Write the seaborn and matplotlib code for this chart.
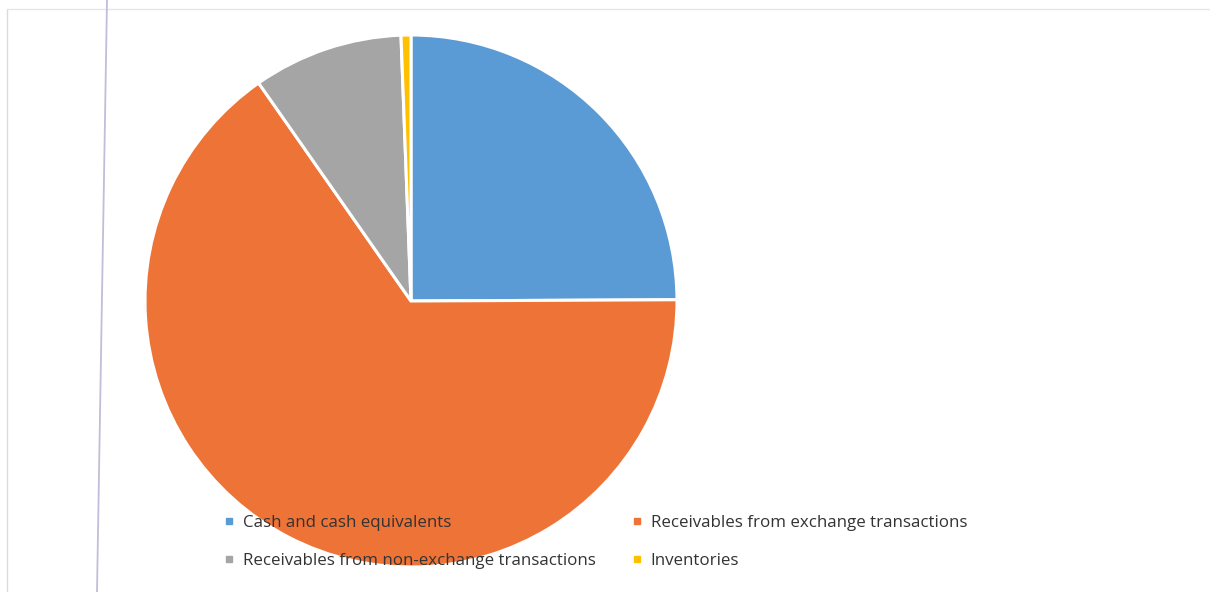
import matplotlib
matplotlib.use("Agg")
import matplotlib.pyplot as plt
from matplotlib.lines import Line2D
import seaborn as sns

sns.set_theme(style="white")
plt.rcParams['font.family'] = ['Open Sans', 'DejaVu Sans']

categories = ["Cash and cash equivalents",
              "Receivables from exchange transactions",
              "Receivables from non-exchange transactions",
              "Inventories"]
values = [24.9, 65.3, 9.1, 0.6]
colors = ["#5B9BD5", "#EE7337", "#A5A5A5", "#FFC000"]

W, H = 1210, 592
fig = plt.figure(figsize=(W / 100, H / 100), dpi=100)
fig.patch.set_facecolor("white")

# faint scan frame lines
fig.add_artist(Line2D([7 / W, 7 / W], [0, 1 - 9 / H], color="#DCD8EA", lw=1.0))
fig.add_artist(Line2D([7 / W, 1], [1 - 9 / H, 1 - 9 / H], color="#E6E2EF", lw=0.9))
fig.add_artist(Line2D([107 / W, 97 / W], [1, 0], color="#C4BCD8", lw=1.3))

cx, cy, r = 411, 301, 266
ax = fig.add_axes([(cx - r) / W, (H - cy - r) / H, 2 * r / W, 2 * r / H])
ax.pie(values, colors=colors, startangle=90, counterclock=False,
       wedgeprops=dict(edgecolor="white", linewidth=2.2))
ax.set_xlim(-1, 1)
ax.set_ylim(-1, 1)
ax.set_aspect("equal")
ax.axis("off")

# legend filled row by row, as in the reference
order = [0, 2, 1, 3]
handles = [Line2D([], [], marker="s", linestyle="none", markersize=5,
                  markerfacecolor=colors[i], markeredgecolor=colors[i]) for i in order]
labels = [categories[i] for i in order]
leg = fig.legend(handles, labels, ncol=2, loc="upper left",
                 bbox_to_anchor=(224 / W, 1 - 515 / H), frameon=False,
                 fontsize=12.2, handlelength=0.6, handletextpad=0.5,
                 columnspacing=2.15, labelspacing=1.3, borderaxespad=0,
                 borderpad=0)
for t in leg.get_texts():
    t.set_color("#333333")

fig.savefig("out.png", dpi=100, facecolor="white")
